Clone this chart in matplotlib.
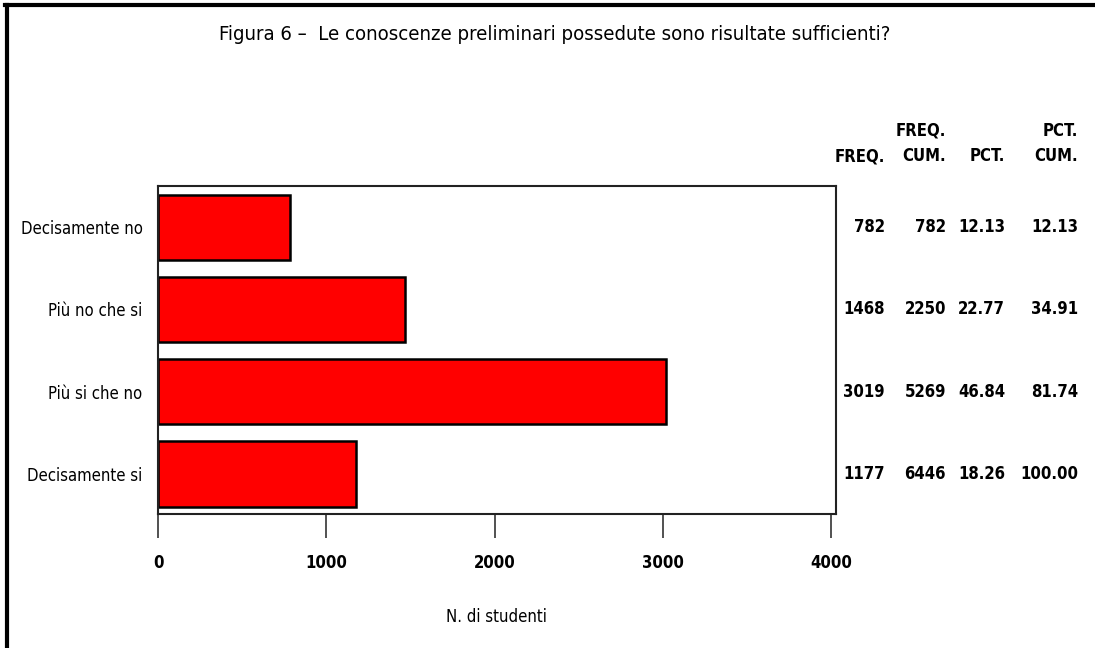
import matplotlib
matplotlib.use("Agg")
import matplotlib.pyplot as plt
import matplotlib.transforms as mtransforms
from matplotlib.lines import Line2D

plt.rcParams['font.family'] = ['DejaVu Sans']
plt.rcParams['font.stretch'] = 'condensed'

# dati
categorie = ['Decisamente no', 'Più no che si', 'Più si che no', 'Decisamente si']
freq = [782, 1468, 3019, 1177]
freq_cum = [782, 2250, 5269, 6446]
pct = [12.13, 22.77, 46.84, 18.26]
pct_cum = [12.13, 34.91, 81.74, 100.00]
xticks = [0, 1000, 2000, 3000, 4000]

titolo = 'Figura 6 \u2013  Le conoscenze preliminari possedute sono risultate sufficienti?'

fig = plt.figure(figsize=(10.95, 6.48), dpi=100)
ax = fig.add_axes([0.1443, 0.2068, 0.6189, 0.5066])

pos = list(range(len(categorie)))
ax.barh(pos, freq, height=0.8, color='#ff0000', edgecolor='black', linewidth=1.8)

ax.set_xlim(0, 4028)
ax.set_ylim(3.49, -0.507)
ax.set_yticks(pos)
ax.set_yticklabels(categorie, fontsize=12)
ax.tick_params(axis='y', length=0, pad=11)
ax.set_xticks(xticks)
ax.set_xticklabels([str(t) for t in xticks], fontsize=12, fontweight='bold')
ax.tick_params(axis='x', length=17, width=1.2, color='#333333', pad=12, direction='out')
ax.set_xlabel('N. di studenti', fontsize=12, labelpad=26)
for s in ax.spines.values():
    s.set_linewidth(1.5)
    s.set_color('#222222')

# tabella a destra
col_x = [885, 946, 1005, 1078]
col_x = [x / 1095 for x in col_x]
intest1 = ['', 'FREQ.', '', 'PCT.']
intest2 = ['FREQ.', 'CUM.', 'PCT.', 'CUM.']
colonne = [
    [str(v) for v in freq],
    [str(v) for v in freq_cum],
    ['%.2f' % v for v in pct],
    ['%.2f' % v for v in pct_cum],
]
riga_tr = mtransforms.blended_transform_factory(fig.transFigure, ax.transData)
for j, x in enumerate(col_x):
    fig.text(x, 1 - 131 / 648, intest1[j], ha='right', va='center', fontsize=12, fontweight='bold')
    fig.text(x, 1 - 156 / 648, intest2[j], ha='right', va='center', fontsize=12, fontweight='bold')
    for i, val in enumerate(colonne[j]):
        fig.text(x, pos[i], val, ha='right', va='center', fontsize=12, fontweight='bold', transform=riga_tr)

fig.text(555 / 1095, 1 - 35 / 648, titolo, ha='center', va='center', fontsize=14.6)

# cornice
fig.add_artist(Line2D([6.5 / 1095, 6.5 / 1095], [0, 1 - 5 / 648], color='black', linewidth=3, transform=fig.transFigure))
fig.add_artist(Line2D([5 / 1095, 1], [1 - 5 / 648, 1 - 5 / 648], color='black', linewidth=3, transform=fig.transFigure))

fig.savefig('out.png', dpi=100)
